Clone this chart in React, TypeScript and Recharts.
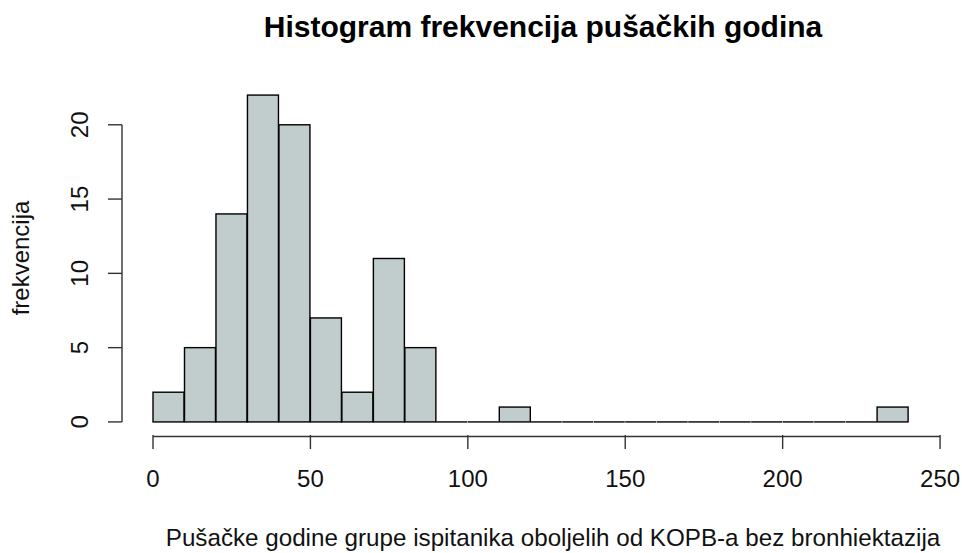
import React from "react";
import {
  ComposedChart,
  Bar,
  XAxis,
  YAxis,
  ReferenceLine,
} from "recharts";

// histogram bins (left edge, width 10) and counts
const binStarts = [
  0, 10, 20, 30, 40, 50, 60, 70, 80, 90, 100, 110,
  120, 130, 140, 150, 160, 170, 180, 190, 200, 210, 220, 230,
];
const counts = [
  2, 5, 14, 22, 20, 7, 2, 11, 5, 0, 0, 1,
  0, 0, 0, 0, 0, 0, 0, 0, 0, 0, 0, 1,
];
const binWidth = 10;
const xTicks = [0, 50, 100, 150, 200, 250];
const yTicks = [0, 5, 10, 15, 20];

const title = "Histogram frekvencija pušačkih godina";
const xLabel = "Pušačke godine grupe ispitanika oboljelih od KOPB-a bez bronhiektazija";
const yLabel = "frekvencija";

const data = binStarts.map((s, i) => ({ mid: s + binWidth / 2, count: counts[i] }));

const xMin = -9.85;
const xMax = 250.3;
const yMin = -0.88;
const yMax = 22.88;

const FONT = '"Liberation Sans", Arial, sans-serif';
const FILL = "#C1CDCD";
const AXIS = "#333";

function HistBar(props: any) {
  const { x, y, width, height } = props;
  if (!height) {
    return <line x1={x} x2={x + width} y1={y} y2={y} stroke="#000" strokeWidth={1.4} />;
  }
  return (
    <rect x={x} y={y} width={width} height={height} fill={FILL} stroke="#000" strokeWidth={1.4} />
  );
}

function XTick(props: any) {
  const { x, payload } = props;
  return (
    <text x={x} y={487} textAnchor="middle" fontSize={24} fontFamily={FONT} fill="#111">
      {payload.value}
    </text>
  );
}

function YTick(props: any) {
  const { y, payload } = props;
  return (
    <text
      x={88}
      y={y}
      transform={`rotate(-90 88 ${y})`}
      textAnchor="middle"
      fontSize={24}
      fontFamily={FONT}
      fill="#111"
    >
      {payload.value}
    </text>
  );
}

export default function App() {
  return (
    <div style={{ position: "absolute", left: 0, top: 0, width: 962, height: 553, background: "#fff" }}>
      <ComposedChart
        width={962}
        height={553}
        data={data}
        margin={{ top: 82, right: 21, bottom: 58, left: 0 }}
        barCategoryGap={0}
      >
        <XAxis
          dataKey="mid"
          type="number"
          domain={[xMin, xMax]}
          allowDataOverflow
          ticks={xTicks}
          axisLine={false}
          tickLine={{ stroke: AXIS, strokeWidth: 1.4 }}
          tickSize={14}
          tick={<XTick />}
          height={60}
          interval={0}
        />
        <YAxis
          type="number"
          domain={[yMin, yMax]}
          allowDataOverflow
          ticks={yTicks}
          axisLine={false}
          tickLine={{ stroke: AXIS, strokeWidth: 1.4 }}
          tickSize={14}
          tick={<YTick />}
          width={122}
          interval={0}
        />
        <ReferenceLine
          segment={[{ x: 0, y: -0.98 }, { x: 250, y: -0.98 }]}
          stroke={AXIS}
          strokeWidth={1.4}
          ifOverflow="visible"
        />
        <ReferenceLine
          segment={[{ x: xMin, y: 0 }, { x: xMin, y: 20 }]}
          stroke={AXIS}
          strokeWidth={1.4}
          ifOverflow="visible"
        />
        <Bar dataKey="count" shape={<HistBar />} isAnimationActive={false} />
      </ComposedChart>
      <svg
        width={962}
        height={553}
        style={{ position: "absolute", left: 0, top: 0, pointerEvents: "none" }}
      >
        <text x={543} y={37} textAnchor="middle" fontSize={30} fontWeight="bold" fontFamily={FONT} fill="#000">
          {title}
        </text>
        <text x={553} y={546} textAnchor="middle" fontSize={24.2} fontFamily={FONT} fill="#111">
          {xLabel}
        </text>
        <text
          x={29}
          y={258}
          transform="rotate(-90 29 258)"
          textAnchor="middle"
          fontSize={24}
          fontFamily={FONT}
          fill="#111"
        >
          {yLabel}
        </text>
      </svg>
    </div>
  );
}
